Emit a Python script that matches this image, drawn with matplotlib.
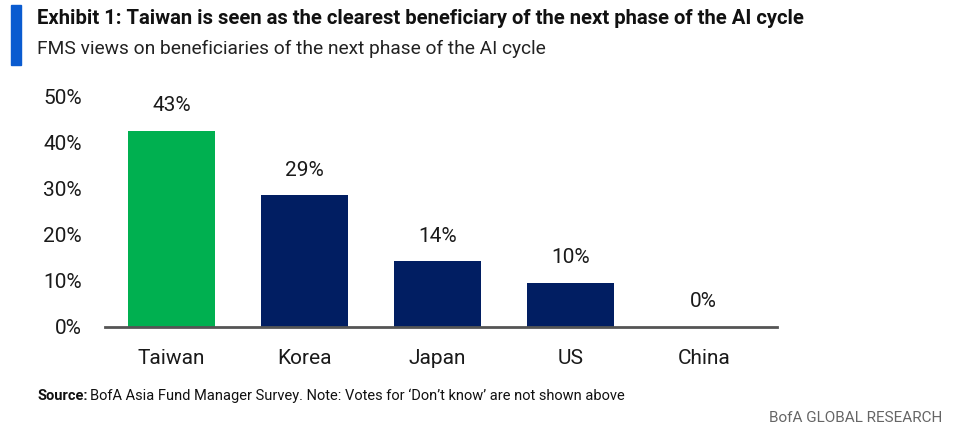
import matplotlib.pyplot as plt
from matplotlib.patches import Rectangle

# Data
countries = ['Taiwan', 'Korea', 'Japan', 'US', 'China']
shares = [42.6, 28.6, 14.3, 9.6, 0.0]
share_labels = ['43%', '29%', '14%', '10%', '0%']
bar_colors = ['#00b050', '#011e62', '#011e62', '#011e62', '#011e62']
y_ticks = [0, 10, 20, 30, 40, 50]

plt.rcParams['font.family'] = ['Roboto', 'DejaVu Sans']

fig = plt.figure(figsize=(9.66, 4.4), dpi=100)
ax = fig.add_axes([105/966, 1 - 327/440, 672/966, 230/440])

x = range(len(countries))
ax.bar(x, shares, width=0.65, color=bar_colors, zorder=2)
for xi, v, lab in zip(x, shares, share_labels):
    ax.text(xi, v + 3.4, lab, ha='center', va='bottom', fontsize=15, color='#1a1a1a')

ax.set_xlim(-0.5, 4.55)
ax.set_ylim(0, 50)
ax.set_yticks(y_ticks)
ax.set_yticklabels(['%d%%' % t for t in y_ticks], fontsize=15, color='#1a1a1a')
ax.set_xticks(list(x))
ax.set_xticklabels(countries, fontsize=15, color='#1a1a1a')
ax.tick_params(axis='both', length=0)
ax.tick_params(axis='y', pad=16.5)
ax.tick_params(axis='x', pad=16)
for s in ['top', 'right', 'left']:
    ax.spines[s].set_visible(False)
ax.spines['bottom'].set_color('#555555')
ax.spines['bottom'].set_linewidth(2)

# header
fig.patches.append(Rectangle((11/966, 1 - 65/440), 10/966, 60/440,
                             transform=fig.transFigure, color='#0a5bd0'))
fig.text(37/966, 1 - 19/440, 'Exhibit 1: Taiwan is seen as the clearest beneficiary of the next phase of the AI cycle',
         fontsize=14.6, fontweight='bold', va='center', ha='left', color='#111111')
fig.text(37/966, 1 - 49/440, 'FMS views on beneficiaries of the next phase of the AI cycle',
         fontsize=13.75, va='center', ha='left', color='#222222')

# footer: bold "Source:" followed by the note
src = fig.text(37/966, 1 - 396/440, 'Source:', fontsize=10.5, fontweight='bold',
               va='center', ha='left', color='#111111')
fig.canvas.draw()
bb = src.get_window_extent(renderer=fig.canvas.get_renderer())
fig.text((bb.x1 + 3) / 966, 1 - 396/440,
         'BofA Asia Fund Manager Survey. Note: Votes for \u2018Don\u2019t know\u2019 are not shown above',
         fontsize=10.5, va='center', ha='left', color='#111111')
fig.text(942/966, 1 - 418/440, 'BofA GLOBAL RESEARCH', fontsize=11, va='center', ha='right', color='#666666')

fig.savefig('out.png', dpi=100, facecolor='white')
